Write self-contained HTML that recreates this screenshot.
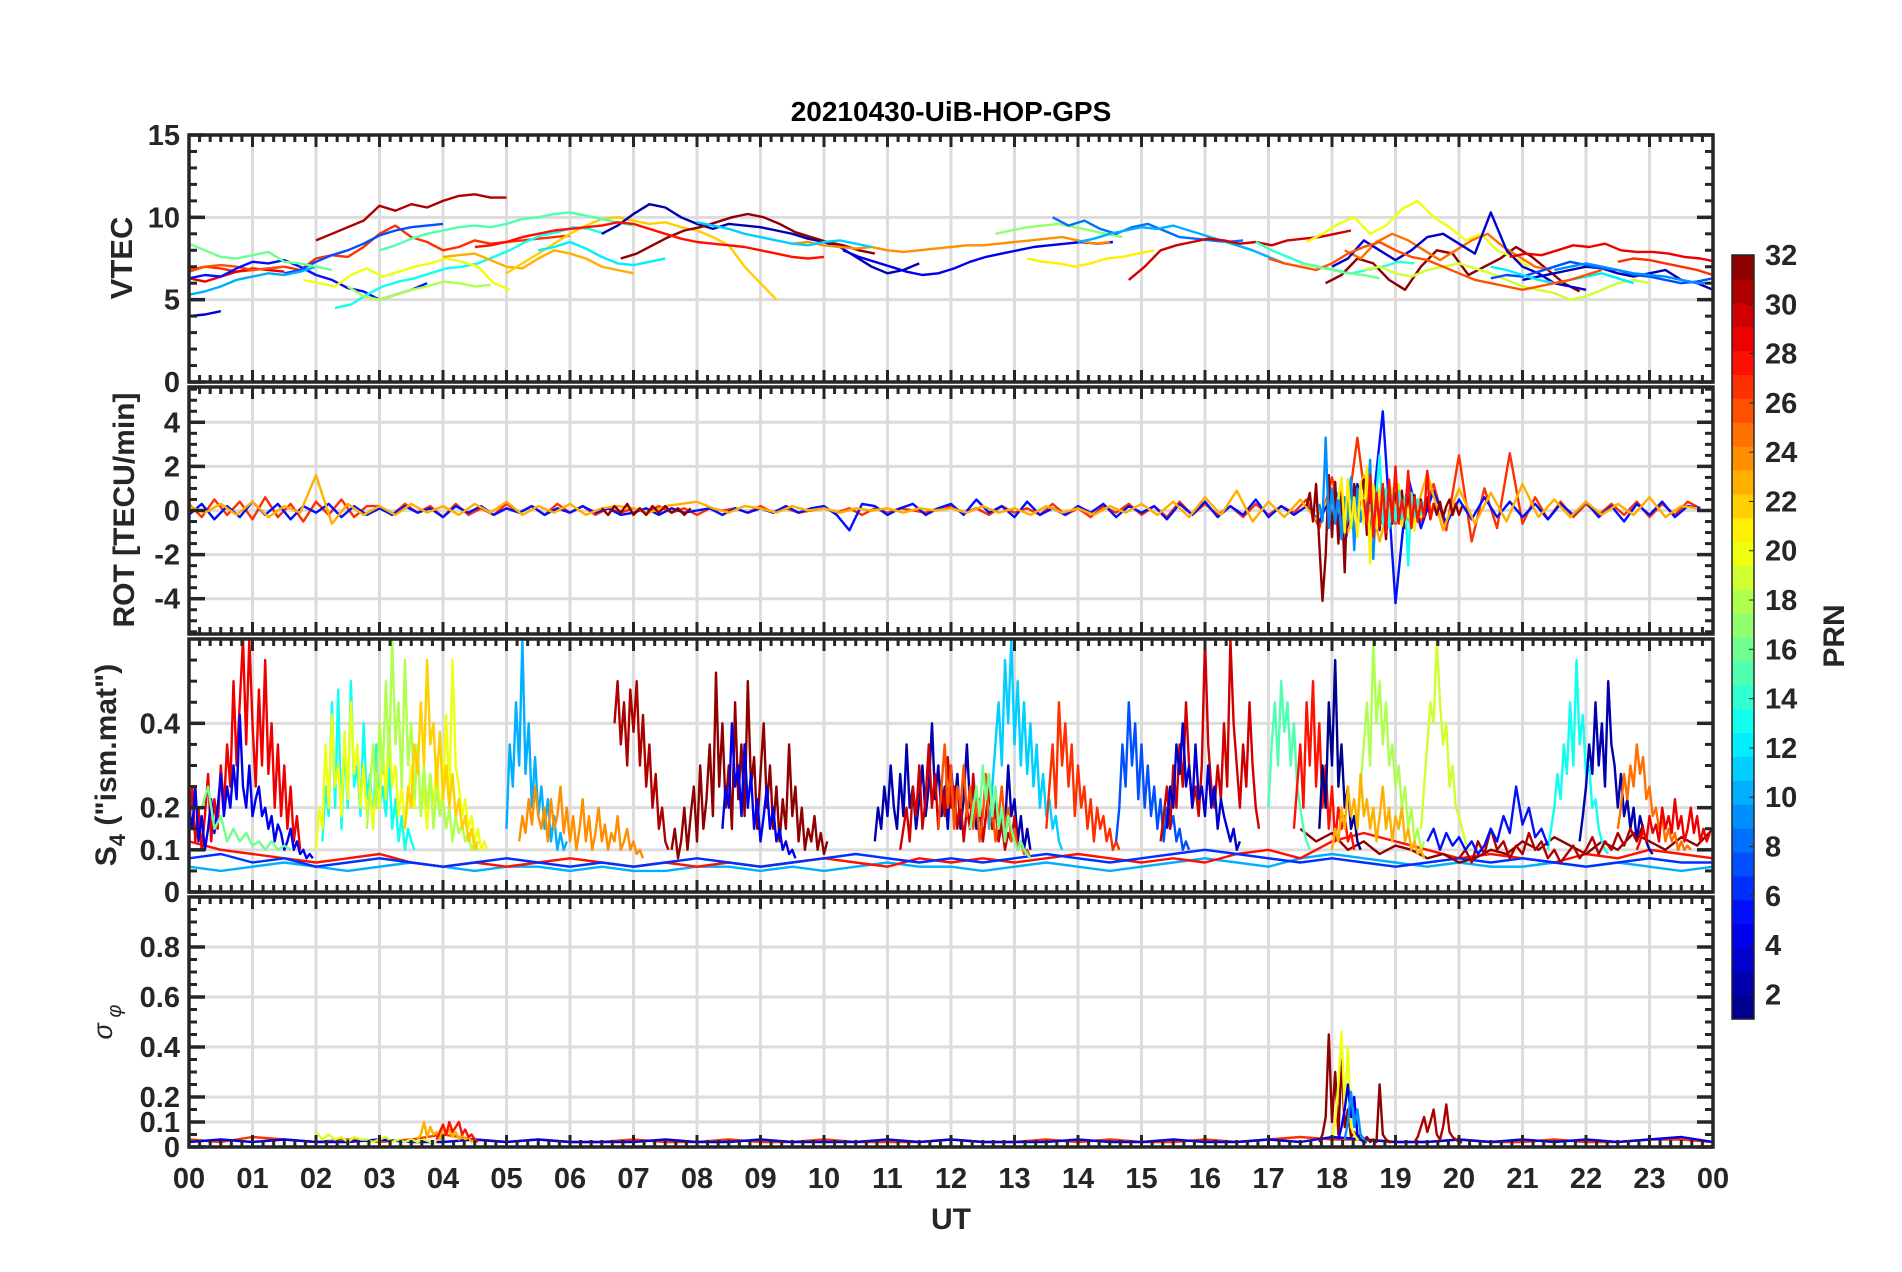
<!DOCTYPE html>
<html><head><meta charset="utf-8"><style>
html,body{margin:0;padding:0;background:#fff;}
svg{display:block;font-family:"Liberation Sans",Arial,sans-serif;}
</style></head><body>
<svg id="fig" width="1902" height="1272" viewBox="0 0 1902 1272" xmlns="http://www.w3.org/2000/svg">
<text x="951" y="121" font-size="28" font-weight="bold" text-anchor="middle" fill="#000">20210430-UiB-HOP-GPS</text>
<text x="951" y="1229" font-size="30" font-weight="bold" text-anchor="middle" fill="#262626">UT</text>
<text transform="translate(132,258) rotate(-90)" font-size="31" font-weight="bold" text-anchor="middle" fill="#262626">VTEC</text>
<text transform="translate(134,510) rotate(-90)" font-size="30" font-weight="bold" text-anchor="middle" fill="#262626">ROT [TECU/min]</text>
<text transform="translate(116,765) rotate(-90)" font-size="30" font-weight="bold" text-anchor="middle" fill="#262626">S<tspan font-size="22" dy="9">4</tspan><tspan dy="-9"> ("ism.mat")</tspan></text>
<text transform="translate(112,1022) rotate(-90)" font-size="27" font-style="italic" text-anchor="middle" fill="#262626">σ<tspan font-size="20" dy="9"> φ</tspan></text>
<text transform="translate(1844,636) rotate(-90)" font-size="30" font-weight="bold" text-anchor="middle" fill="#262626">PRN</text>
<g id="grid"></g><g id="data"></g><g id="axes"></g><g id="cbar"></g>
</svg>
<script>
// ---------- DATA ----------
const hourLabels=["00","01","02","03","04","05","06","07","08","09","10","11","12","13","14","15","16","17","18","19","20","21","22","23","00"];
const vtecTicks=[0,5,10,15];
const rotTicks=[-4,-2,0,2,4];
const s4Ticks=[0,0.1,0.2,0.4];
const sigTicks=[0,0.1,0.2,0.4,0.6,0.8];
const cbarTicks=[2,4,6,8,10,12,14,16,18,20,22,24,26,28,30,32];

const vtecDt=0.25;
const vtecPrns=[31,27,29,26,3,5,7,10,16,13,18,20,23,22,12,15,2,32,28,4,24,17,8,10,21,30,14,32,20,25,3,19,29,2,7,12,26,27,9,16,11];
const vtecStarts=[2.0,0,0,0,0,0,1.5,0,0,2.3,2.5,1.8,4.0,5.0,5.5,3,6.5,6.8,4.5,10.3,9.5,12.7,13.6,14.0,13.2,14.8,16.8,17.9,17.6,18.2,18.0,18.5,20.8,21.0,20.5,20.5,17.0,22.5,21.5,17.5,8];
const vtecVals=[
[8.6,9.0,9.4,9.8,10.7,10.4,10.8,10.6,11.0,11.3,11.4,11.2,11.2],
[6.8,7.0,6.9,6.7,6.8,6.9,7.0,6.8,7.5,7.7,7.6,8.2,9.0,9.5,8.8,8.5,8.0,8.2,8.6,8.4,8.5,8.6,8.7,8.8,8.9],
[6.3,6.1,6.4,6.7,6.9,6.8,6.7],
[6.7,7.0,7.1,7.0,6.8,6.9,7.0],
[4.0,4.1,4.3],
[6.3,6.5,6.4,6.9,7.3,7.2,7.4,7.0,6.5,6.2,5.7,5.5,5.0,5.3,5.6,6.0],
[6.6,6.8,7.3,7.7,8.0,8.4,8.9,9.2,9.4,9.5,9.6],
[5.3,5.5,5.8,6.2,6.4,6.6,6.5,6.7,7.0],
[8.4,8.0,7.6,7.5,7.7,7.9,7.3,7.2,7.0,6.8],
[4.5,4.7,5.3,5.8,6.1,6.3,6.6,6.9,7.0,7.2,7.6,8.0,8.5,8.9,9.1,9.4,9.3,9.0],
[5.8,5.2,5.0,5.3,5.6,5.8,6.1,6.0,5.8,5.9],
[6.2,6.0,5.8,6.5,6.9,6.4,6.7,7.0,7.2,7.5,7.3,7.0,6.0,5.6],
[7.6,7.7,7.8,7.4,7.0,6.9,7.5,8.0,7.8,7.5,7.0,6.8,6.6],
[6.6,7.2,7.8,8.4,9.0,9.5,9.9,10.0,9.8,9.6,9.7,9.4,9.2,8.8,8.3,7.0,6.0,5.0],
[8.0,8.2,8.5,8.1,7.6,7.2,7.1,7.3,7.5],
[8.0,8.3,8.7,9.0,9.2,9.4,9.5,9.4,9.6,9.9,10.0,10.2,10.3,10.1,9.9,9.7,9.5],
[9.0,9.5,10.2,10.8,10.6,10.0,9.6,9.3,9.6,9.5,9.4,9.2,9.0,8.7,8.5,8.2,7.6,7.0,6.6,6.8,7.2],
[7.5,7.8,8.3,8.8,9.2,9.4,9.7,10.0,10.2,10.0,9.6,9.1,8.8,8.5,8.3,8.0,7.8],
[8.2,8.3,8.5,8.8,9.0,9.2,9.3,9.4,9.5,9.7,9.6,9.3,9.0,8.7,8.5,8.4,8.3,8.2,8.0,7.8,7.6,7.5,7.6],
[8.0,7.6,7.3,7.0,6.7,6.5,6.6,6.9,7.3,7.6,7.8,8.0,8.2,8.3,8.4,8.5,8.4,8.5],
[8.4,8.5,8.3,8.2,8.1,8.2,8.0,7.9,8.0,8.1,8.2,8.3,8.3,8.4,8.5,8.6,8.7,8.8,8.6,8.4,8.5],
[9.0,9.2,9.4,9.5,9.6,9.4,9.2,9.0,8.8],
[10.0,9.5,9.8,9.3,9.0,9.4,9.6,9.2,8.8,8.7,8.6,8.5,8.6],
[8.5,8.7,9.0,9.2,9.4,9.3,9.5,9.2,8.9,8.6,8.3,8.0,7.6,7.2],
[7.5,7.3,7.2,7.0,7.2,7.5,7.6,7.8,8.0],
[6.2,7.0,8.0,8.3,8.5,8.7,8.6,8.4,8.5,8.3,8.6,8.7,8.8,9.0,9.2],
[8.5,8.0,7.6,7.2,7.0,6.8,6.6,6.8,7.0,7.3,7.2],
[6.0,6.5,7.5,7.2,6.2,5.6,7.0,8.0,7.8,6.5,7.0,7.5,8.2,7.6,6.8,6.0,5.5],
[8.5,9.0,9.6,10.0,9.0,9.5,10.5,11.0,10.0,9.4,8.6,9.0,8.0,7.6,7.0],
[8.0,7.5,8.5,9.0,8.6,8.0,7.4,8.0,8.6,9.0,8.2,7.6,7.0,6.8],
[7.0,7.5,8.6,8.0,7.4,8.0,8.8,9.0,8.4,7.8,10.3,8.0,7.0,6.6,6.0,5.8,5.6],
[6.8,7.0,6.6,6.4,6.8,7.0,7.2,6.9,6.6,6.2,5.8,5.6,5.4,5.0,5.2,5.6,6.0,6.2,6.0],
[7.6,7.8,7.7,8.0,8.3,8.2,8.4,8.0,7.9,7.9,7.8,7.6,7.5,7.3,7.0,6.5],
[6.2,6.4,6.6,6.8,7.0,6.9,6.6,6.4,6.6,6.8,6.2,6.0,5.6,5.0,4.6,4.2],
[6.3,6.5,6.4,6.7,7.0,7.3,7.1,6.9,6.8,6.5,6.4,6.2,6.0,6.1,6.3,6.0,5.8,5.6,5.8],
[7.0,6.8,6.5,6.2,6.0,6.2,6.4,6.6,6.3,6.0],
[7.5,7.2,7.0,6.8,7.2,7.8,8.2,8.5,8.0,7.6,7.4,7.0,6.6,6.2,6.0,5.8,5.6,5.8,6.0,6.2,6.5,6.8],
[7.3,7.5,7.4,7.2,7.0,6.8,6.5],
[6.8,7.0,7.2,7.0,6.8,6.6,6.5,6.4,6.2,6.0,6.0],
[7.2,7.0,6.8,6.6,6.5,6.3],
[9.7,9.5,9.3,9.0,8.8,8.6,8.4,8.3,8.5,8.6,8.4,8.2]
];

const rotPrns=[27,5,23,32,9,21,13,28,32];
const rotStarts=[0,0,0,17.6,17.8,18.1,18.6,18.5,6.5];
const rotDts=[0.2,0.2,0.25,0.05,0.05,0.05,0.05,0.05,0.1];
const rotVals=[
[0.3,-0.3,0.5,-0.2,0.4,-0.4,0.6,-0.3,0.3,-0.5,0.4,-0.2,0.5,-0.3,0.2,
0.2,-0.2,0.3,-0.1,0.2,-0.3,0.3,-0.2,0.1,-0.2,0.3,-0.1,0.2,-0.2,0.3,-0.1,0.2,-0.2,0.1,-0.1,
0.1,-0.1,0.2,-0.1,0.1,-0.2,0.1,0.0,0.1,-0.1,0.2,-0.1,0.1,-0.1,0.0,0.1,-0.1,0.1,-0.2,0.1,-0.1,0.1,0.0,-0.1,0.1,
0.2,-0.1,0.1,-0.2,0.2,-0.1,0.1,-0.2,0.3,-0.2,0.1,-0.3,0.2,-0.1,0.3,-0.2,0.2,-0.3,0.4,-0.2,0.3,-0.2,0.2,-0.3,0.3,-0.2,0.2,-0.1,
0.5,-0.8,1.5,-1.0,3.3,-1.2,1.0,-0.6,0.8,-0.5,1.2,-0.9,2.5,-1.4,1.0,-0.8,2.6,-0.6,0.6,-0.4,0.4,-0.3,0.3,-0.2,0.3,-0.2,0.4,-0.3,0.3,-0.2,0.4,0.1],
[-0.2,0.3,-0.4,0.2,-0.3,0.4,-0.2,0.3,-0.4,0.2,-0.1,0.3,-0.3,0.2,-0.2,
0.1,-0.2,0.2,-0.1,0.1,-0.3,0.2,-0.1,0.2,-0.2,0.1,-0.1,0.2,-0.2,0.1,-0.1,0.2,-0.1,0.1,-0.2,
-0.1,0.1,-0.2,0.1,-0.1,0.0,0.1,-0.2,0.1,-0.1,0.1,-0.1,0.2,-0.1,0.1,0.2,-0.2,-0.9,0.3,0.2,-0.2,0.1,0.3,-0.2,0.1,
0.3,-0.2,0.5,-0.1,0.2,-0.3,0.4,-0.2,0.1,-0.2,0.2,-0.1,0.3,-0.3,0.2,-0.1,0.2,-0.4,0.3,-0.2,0.4,-0.3,0.2,-0.2,0.5,-0.3,0.2,-0.2,
0.2,-0.5,0.8,-1.5,1.2,-1.0,4.5,-4.2,1.5,-0.8,0.9,-0.6,0.5,-0.4,0.6,-0.3,0.4,-0.3,0.3,-0.4,0.3,-0.2,0.4,-0.3,0.2,-0.5,0.3,-0.2,0.4,-0.3,0.2,0.1],
[0.2,-0.1,0.3,-0.2,0.4,-0.3,0.2,-0.1,1.6,-0.6,0.3,-0.2,
0.2,-0.2,0.3,-0.1,0.2,-0.2,0.3,-0.1,0.4,-0.2,0.2,-0.1,0.3,-0.2,0.1,0.2,
0.1,-0.1,0.2,0.3,0.4,0.1,-0.1,0.2,0.1,-0.1,0.2,0.0,0.1,-0.1,0.1,0.0,0.1,-0.1,0.1,0.0,
0.1,-0.1,0.2,-0.1,0.1,-0.2,0.2,-0.1,0.1,-0.2,0.2,-0.1,0.3,-0.2,0.4,-0.3,0.6,-0.2,0.9,-0.5,0.4,-0.3,
0.5,-0.4,0.8,-1.0,1.6,-1.4,1.2,-0.8,1.7,-0.9,1.0,-0.6,0.8,-0.5,1.2,-0.3,0.5,-0.3,0.4,-0.2,0.3,-0.2,0.6,-0.3,0.2,0.1],
[0.2,0.8,-0.5,1.2,-1.5,-4.1,-2.0,1.6,-1.2,1.3,-1.5,0.9,-2.8,1.4,-0.8,1.2,-1.0,0.8,1.4,-1.1,0.9,-0.7,1.2,-0.9,0.6,-1.3,1.0,-0.6,0.8,-0.5,0.9,-0.8,0.6,-0.4,0.7,-0.5,0.5,-0.3,0.6,-0.4,0.3,-0.2,0.4,-0.3,0.2,0.5,-0.2,0.3,-0.2,0.2],
[0.3,-0.5,3.3,-0.8,1.0,-0.6,0.8,-1.3,0.6,-0.4,1.5,-1.8,1.0,-0.5,0.4,-0.3,2.3,-2.2,0.8,-0.6,0.5,-0.3,0.4,-0.2,0.3],
[0.5,1.5,-1.0,1.4,-0.8,0.6,-1.2,1.3,-0.6,2.0,-2.4,1.2,-0.8,1.0,-0.5,0.8,-0.6,1.0,-0.4,1.2,-0.7,0.5,-0.3,0.8,-0.9,0.4,-0.3,0.3],
[0.3,-0.5,0.8,2.5,-0.6,1.0,-0.8,0.7,-0.5,0.9,-0.4,0.6,-2.5,0.8,-0.3,0.5,-0.2,0.4],
[0.5,-0.6,1.6,-1.2,0.8,-0.7,1.2,-1.0,1.4,-0.5,2.0,-0.6,0.5,-0.4,1.8,-0.8,0.6,-0.5,0.4,-0.3,1.8,-0.4,0.3],
[0.1,-0.2,0.2,-0.1,0.3,-0.2,0.1,-0.2,0.2,-0.1,0.2,-0.1,0.1,-0.2,0.1]
];

const s4Prns=[10,28,6,32,29,4,16,13,20,18,22,10,24,31,32,4,2,30,26,11,16,27,7,30,3,15,28,1,18,19,23,13,2,25,29,31,5];
const s4Starts=[0,0,0,17.5,0,0,0.2,2.1,2.0,2.8,3.4,5.0,5.2,6.7,7.6,8.4,10.8,11.2,11.8,12.6,12.3,13.5,14.6,15.3,15.4,17.0,17.4,17.8,18.4,19.4,18.0,21.4,21.9,22.5,22.8,20.0,19.5];
const s4Dts=[0.5,0.5,0.5,0.25,0.05,0.05,0.1,0.05,0.05,0.05,0.05,0.05,0.05,0.05,0.05,0.05,0.05,0.05,0.05,0.05,0.05,0.05,0.05,0.05,0.05,0.05,0.05,0.05,0.05,0.05,0.05,0.05,0.05,0.05,0.05,0.1,0.1];
const s4Vals=[
[0.06,0.05,0.06,0.07,0.06,0.05,0.06,0.07,0.06,0.05,0.06,0.06,0.05,0.06,0.05,0.05,0.06,0.06,0.05,0.06,0.05,0.06,0.07,0.06,0.06,0.05,0.06,0.07,0.06,0.05,0.06,0.07,0.08,0.07,0.06,0.08,0.09,0.08,0.07,0.06,0.07,0.06,0.06,0.07,0.06,0.07,0.06,0.05,0.06],
[0.12,0.10,0.09,0.08,0.07,0.08,0.09,0.07,0.06,0.07,0.06,0.07,0.08,0.07,0.06,0.07,0.06,0.07,0.06,0.07,0.08,0.07,0.06,0.08,0.07,0.08,0.07,0.08,0.09,0.08,0.07,0.08,0.07,0.09,0.10,0.08,0.12,0.14,0.12,0.10,0.08,0.09,0.08,0.07,0.09,0.08,0.10,0.09,0.08],
[0.08,0.09,0.07,0.08,0.06,0.07,0.08,0.07,0.06,0.07,0.08,0.07,0.06,0.07,0.06,0.07,0.08,0.07,0.06,0.07,0.08,0.09,0.08,0.07,0.08,0.07,0.08,0.09,0.08,0.07,0.08,0.09,0.10,0.09,0.08,0.07,0.08,0.07,0.06,0.07,0.08,0.07,0.08,0.07,0.06,0.07,0.08,0.07,0.07],
[0.15,0.12,0.14,0.10,0.12,0.09,0.11,0.10,0.08,0.09,0.07,0.08,0.10,0.09,0.12,0.10,0.13,0.11,0.09,0.12,0.10,0.14,0.12,0.10,0.13,0.11,0.15],
[0.15,0.25,0.12,0.20,0.10,0.18,0.28,0.12,0.22,0.15,0.30,0.20,0.35,0.25,0.50,0.30,0.45,0.60,0.35,0.60,0.40,0.25,0.48,0.30,0.55,0.28,0.40,0.20,0.35,0.18,0.30,0.15,0.25,0.12,0.18,0.10],
[0.20,0.15,0.25,0.12,0.18,0.10,0.15,0.22,0.14,0.20,0.28,0.18,0.25,0.20,0.30,0.22,0.42,0.25,0.20,0.30,0.18,0.22,0.25,0.18,0.20,0.15,0.18,0.12,0.16,0.14,0.10,0.12,0.15,0.10,0.12,0.09,0.10,0.08,0.09,0.08],
[0.20,0.25,0.15,0.18,0.12,0.15,0.12,0.14,0.11,0.12,0.10,0.12,0.10,0.11,0.10],
[0.12,0.25,0.18,0.45,0.20,0.48,0.15,0.35,0.20,0.50,0.25,0.30,0.18,0.40,0.22,0.28,0.15,0.35,0.20,0.25,0.18,0.30,0.15,0.22,0.12,0.18,0.10,0.15,0.12,0.10],
[0.10,0.20,0.15,0.35,0.20,0.42,0.25,0.30,0.18,0.38,0.22,0.45,0.28,0.35,0.20,0.30,0.18,0.25,0.15,0.28,0.20,0.35,0.22,0.40,0.25,0.30,0.18,0.25,0.15,0.22,0.30,0.20,0.35,0.18,0.25,0.15,0.28,0.20,0.32,0.18,0.25,0.42,0.22,0.55,0.30,0.25,0.18,0.22,0.15,0.18,0.12,0.15,0.10,0.12,0.10],
[0.15,0.25,0.35,0.20,0.40,0.28,0.50,0.30,0.60,0.35,0.45,0.25,0.55,0.30,0.40,0.22,0.35,0.18,0.30,0.20,0.28,0.15,0.25,0.18,0.22,0.15,0.20,0.12,0.18,0.14,0.16,0.12,0.14,0.10,0.12,0.10],
[0.15,0.25,0.20,0.35,0.28,0.45,0.30,0.55,0.35,0.40,0.25,0.38,0.22,0.30,0.20,0.28,0.18,0.22,0.15,0.18,0.12,0.15,0.10,0.12],
[0.15,0.35,0.25,0.45,0.30,0.60,0.28,0.40,0.20,0.32,0.18,0.25,0.15,0.22,0.12,0.18,0.10,0.14,0.10,0.12],
[0.12,0.18,0.14,0.22,0.16,0.25,0.18,0.15,0.20,0.12,0.22,0.15,0.18,0.25,0.14,0.20,0.12,0.18,0.10,0.15,0.22,0.12,0.18,0.10,0.14,0.20,0.12,0.16,0.10,0.14,0.12,0.18,0.10,0.12,0.15,0.10,0.12,0.09,0.10,0.08],
[0.40,0.50,0.35,0.45,0.30,0.48,0.38,0.50,0.30,0.42,0.25,0.35,0.20,0.28,0.15,0.20,0.12,0.10],
[0.10,0.15,0.08,0.12,0.20,0.10,0.18,0.25,0.12,0.30,0.15,0.22,0.35,0.18,0.52,0.25,0.40,0.20,0.30,0.15,0.45,0.22,0.35,0.18,0.50,0.25,0.32,0.15,0.28,0.40,0.20,0.30,0.15,0.25,0.12,0.22,0.15,0.35,0.18,0.25,0.12,0.20,0.10,0.15,0.12,0.18,0.10,0.14,0.09,0.12],
[0.15,0.25,0.20,0.40,0.25,0.30,0.18,0.35,0.20,0.28,0.15,0.22,0.12,0.18,0.25,0.15,0.20,0.12,0.15,0.10,0.12,0.09,0.10,0.08],
[0.12,0.20,0.15,0.25,0.18,0.30,0.20,0.15,0.28,0.18,0.35,0.20,0.25,0.15,0.22,0.30,0.18,0.25,0.40,0.22,0.30,0.18,0.25,0.15,0.30,0.20,0.28,0.15,0.22,0.35,0.20,0.25,0.15,0.20,0.12,0.18,0.25,0.15,0.22,0.12,0.20,0.15,0.30,0.18,0.22,0.12,0.18,0.10,0.15,0.10],
[0.10,0.15,0.20,0.12,0.25,0.18,0.30,0.15,0.22,0.35,0.20,0.28,0.15,0.25,0.18,0.32,0.20,0.25,0.15,0.22,0.12,0.20,0.15,0.28,0.18,0.22,0.12,0.18,0.25,0.15,0.20,0.12,0.16,0.10,0.14,0.12,0.18,0.10,0.12,0.10],
[0.15,0.25,0.35,0.20,0.30,0.15,0.25,0.20,0.30,0.18,0.25,0.15,0.22,0.12,0.18,0.28,0.15,0.20,0.12,0.18,0.25,0.15,0.20,0.12,0.15,0.10,0.12,0.09,0.10,0.08],
[0.15,0.25,0.35,0.45,0.30,0.55,0.40,0.60,0.35,0.50,0.30,0.45,0.28,0.40,0.25,0.35,0.20,0.28,0.18,0.22,0.15,0.18,0.12,0.10],
[0.15,0.20,0.25,0.18,0.30,0.22,0.28,0.18,0.25,0.15,0.20,0.12,0.18,0.15,0.12,0.10,0.12,0.10,0.09,0.08],
[0.15,0.25,0.35,0.20,0.45,0.30,0.40,0.25,0.35,0.18,0.30,0.20,0.25,0.15,0.22,0.12,0.20,0.15,0.18,0.12,0.15,0.10,0.12,0.10],
[0.12,0.20,0.35,0.25,0.45,0.30,0.40,0.22,0.35,0.20,0.30,0.18,0.25,0.15,0.22,0.12,0.20,0.15,0.18,0.12,0.15,0.10,0.12,0.10],
[0.12,0.18,0.25,0.15,0.30,0.20,0.35,0.25,0.45,0.30,0.20,0.25,0.18,0.30,0.60,0.35,0.25,0.20,0.30,0.22,0.40,0.25,0.60,0.40,0.30,0.20,0.35,0.25,0.45,0.30,0.20,0.15],
[0.15,0.25,0.20,0.35,0.28,0.40,0.25,0.30,0.20,0.35,0.22,0.25,0.18,0.30,0.20,0.25,0.15,0.22,0.18,0.15,0.12,0.15,0.10,0.12],
[0.20,0.35,0.45,0.30,0.50,0.38,0.45,0.30,0.40,0.25,0.20,0.15,0.12,0.10],
[0.15,0.25,0.35,0.20,0.45,0.30,0.50,0.25,0.40,0.20,0.30,0.15,0.25,0.12,0.20,0.15,0.18,0.12,0.14,0.10],
[0.15,0.30,0.20,0.45,0.30,0.55,0.25,0.35,0.20,0.25,0.15,0.18,0.12,0.10],
[0.15,0.25,0.35,0.45,0.30,0.60,0.40,0.50,0.35,0.45,0.30,0.35,0.25,0.30,0.20,0.25,0.15,0.20,0.12,0.15,0.10,0.12],
[0.15,0.25,0.35,0.45,0.40,0.60,0.45,0.35,0.40,0.25,0.30,0.20,0.18,0.15,0.12,0.10],
[0.10,0.15,0.12,0.20,0.15,0.25,0.18,0.22,0.15,0.28,0.18,0.22,0.15,0.20,0.12,0.18,0.25,0.15,0.20,0.12,0.18,0.15,0.20,0.12,0.15,0.10,0.12,0.09,0.10,0.08],
[0.10,0.15,0.20,0.28,0.22,0.35,0.28,0.45,0.30,0.55,0.35,0.42,0.28,0.30,0.20,0.22,0.15,0.12,0.10,0.09],
[0.12,0.18,0.25,0.35,0.28,0.45,0.30,0.40,0.25,0.50,0.35,0.30,0.20,0.28,0.18,0.22,0.15,0.20,0.12,0.18,0.15,0.12,0.10,0.09],
[0.15,0.20,0.28,0.22,0.30,0.25,0.35,0.28,0.32,0.22,0.25,0.18,0.20,0.15,0.18,0.12,0.15,0.12,0.14,0.10,0.12,0.10,0.11,0.10],
[0.10,0.12,0.15,0.12,0.18,0.14,0.16,0.12,0.20,0.15,0.18,0.14,0.22,0.15,0.18,0.12,0.15,0.20,0.14,0.18,0.12,0.15,0.12,0.14],
[0.08,0.10,0.07,0.12,0.09,0.15,0.10,0.12,0.08,0.11,0.09,0.14,0.10,0.12,0.08,0.10,0.07,0.09,0.11,0.08,0.10,0.13,0.09,0.12,0.10,0.14,0.11,0.15,0.12,0.16],
[0.12,0.15,0.10,0.14,0.11,0.13,0.10,0.12,0.09,0.11,0.15,0.12,0.18,0.14,0.25,0.16,0.20,0.13,0.15,0.11]
];

const sigPrns=[27,4,19,23,28,32,20,4,31,9];
const sigStarts=[0,0,2.0,3.6,3.9,17.8,18.0,18.1,19.3,18.2];
const sigDts=[0.5,0.5,0.1,0.05,0.05,0.05,0.05,0.05,0.05,0.05];
const sigVals=[
[0.03,0.02,0.04,0.03,0.02,0.03,0.02,0.03,0.05,0.03,0.02,0.03,0.02,0.02,0.03,0.02,0.02,0.03,0.02,0.02,0.03,0.02,0.02,0.02,0.03,0.02,0.02,0.03,0.02,0.03,0.02,0.02,0.03,0.02,0.03,0.04,0.03,0.03,0.02,0.02,0.03,0.02,0.02,0.03,0.02,0.02,0.03,0.03,0.02],
[0.02,0.03,0.02,0.03,0.02,0.02,0.03,0.02,0.02,0.03,0.02,0.03,0.02,0.02,0.02,0.03,0.02,0.02,0.03,0.02,0.02,0.02,0.03,0.02,0.03,0.02,0.02,0.02,0.03,0.02,0.02,0.03,0.02,0.02,0.03,0.02,0.04,0.03,0.02,0.02,0.03,0.02,0.03,0.02,0.03,0.02,0.03,0.04,0.02],
[0.06,0.03,0.05,0.03,0.04,0.02,0.04,0.03,0.03,0.02,0.03,0.04,0.02,0.03,0.02,0.03,0.02,0.03,0.02,0.02],
[0.03,0.05,0.10,0.04,0.08,0.05,0.06,0.03,0.09,0.05,0.07,0.04,0.06,0.03,0.05,0.03,0.04,0.02,0.03,0.02],
[0.03,0.06,0.09,0.05,0.10,0.06,0.08,0.10,0.05,0.07,0.04,0.05,0.03,0.02],
[0.02,0.05,0.12,0.45,0.10,0.30,0.05,0.35,0.08,0.15,0.04,0.06,0.03,0.05,0.03,0.04,0.02,0.03,0.02,0.25,0.05,0.03,0.02,0.02],
[0.03,0.10,0.25,0.46,0.15,0.40,0.08,0.05,0.03,0.04,0.02,0.02],
[0.03,0.08,0.15,0.25,0.12,0.20,0.05,0.03,0.02,0.02],
[0.02,0.04,0.08,0.12,0.06,0.10,0.15,0.05,0.03,0.08,0.17,0.06,0.04,0.03,0.02,0.02],
[0.03,0.10,0.22,0.08,0.15,0.05,0.03,0.02]
];

// ---------- LAYOUT ----------
const NS="http://www.w3.org/2000/svg";
const X0=189, X1=1713;
const xAt=h=>X0+h*(X1-X0)/24;
const panelDefs=[
 {name:"vtec",top:135,bot:382,min:0,max:15,ticks:vtecTicks,minor:1,prns:vtecPrns,starts:vtecStarts,dts:null,dt:vtecDt,vals:vtecVals},
 {name:"rot",top:387,bot:634,min:-5.6,max:5.6,ticks:rotTicks,minor:0.5,prns:rotPrns,starts:rotStarts,dts:rotDts,vals:rotVals},
 {name:"s4",top:639,bot:892,min:0,max:0.6,ticks:s4Ticks,minor:0.05,prns:s4Prns,starts:s4Starts,dts:s4Dts,vals:s4Vals},
 {name:"sigma-phi",top:897,bot:1147,min:0,max:1,ticks:sigTicks,minor:0.05,prns:sigPrns,starts:sigStarts,dts:sigDts,vals:sigVals}
];
function jet(p){
  const x=(p-0.5)/32;
  const c=v=>Math.round(255*Math.max(0,Math.min(1,v)));
  return `rgb(${c(1.5-Math.abs(4*x-3))},${c(1.5-Math.abs(4*x-2))},${c(1.5-Math.abs(4*x-1))})`;
}
function mk(tag,attrs,parent){const e=document.createElementNS(NS,tag);for(const k in attrs)e.setAttribute(k,attrs[k]);parent.appendChild(e);return e;}
const G=document.getElementById('grid'),D=document.getElementById('data'),A=document.getElementById('axes'),C=document.getElementById('cbar');
const ink="#262626";

panelDefs.forEach(P=>{
  const yAt=v=>P.bot-(v-P.min)/(P.max-P.min)*(P.bot-P.top);
  const box=mk('rect',{x:X0,y:P.top,width:X1-X0,height:P.bot-P.top,fill:"#fff"},G);
  
  
  for(let h=1;h<24;h++){
    const gl=mk('line',{x1:xAt(h),x2:xAt(h),y1:P.top,y2:P.bot,stroke:"#dcdcdc","stroke-width":3},G);
    
    
  }
  P.ticks.forEach(t=>{
    if(t===P.min) return;
    const gl=mk('line',{x1:X0,x2:X1,y1:yAt(t),y2:yAt(t),stroke:"#dcdcdc","stroke-width":3},G);
    
    
  });
  const clipId='clip-'+P.name;
  const cp=mk('clipPath',{id:clipId},D);
  mk('rect',{x:X0,y:P.top,width:X1-X0,height:P.bot-P.top},cp);
  const sg=mk('g',{'clip-path':`url(#${clipId})`},D);
  
  
  P.vals.forEach((arr,i)=>{
    const dt=P.dts?P.dts[i]:P.dt;
    const pts=arr.map((v,j)=>xAt(P.starts[i]+j*dt).toFixed(1)+','+yAt(v).toFixed(1)).join(' ');
    const pl=mk('polyline',{points:pts,fill:"none",stroke:jet(P.prns[i]),"stroke-width":2.4,"stroke-linejoin":"round"},sg);
    
    
  });
  const fr=mk('rect',{x:X0,y:P.top,width:X1-X0,height:P.bot-P.top,fill:"none",stroke:ink,"stroke-width":3.5},A);
  
  
  for(let m=0;m<=144;m++){
    const x=xAt(m/6),len=(m%6===0)?12:7;
    mk('line',{x1:x,x2:x,y1:P.top,y2:P.top+len,stroke:ink,"stroke-width":3},A);
    mk('line',{x1:x,x2:x,y1:P.bot,y2:P.bot-len,stroke:ink,"stroke-width":3},A);
  }
  const nMin=Math.round((P.max-P.min)/P.minor);
  for(let k=0;k<=nMin;k++){
    const v=Math.ceil(P.min/P.minor)*P.minor+k*P.minor; if(v>P.max+1e-9)break;
    const y=yAt(v);
    mk('line',{x1:X0,x2:X0+8,y1:y,y2:y,stroke:ink,"stroke-width":3},A);
    mk('line',{x1:X1,x2:X1-8,y1:y,y2:y,stroke:ink,"stroke-width":3},A);
  }
  P.ticks.forEach(t=>{
    const y=yAt(t);
    mk('line',{x1:X0,x2:X0+16,y1:y,y2:y,stroke:ink,"stroke-width":3.5},A);
    mk('line',{x1:X1,x2:X1-16,y1:y,y2:y,stroke:ink,"stroke-width":3.5},A);
    const tl=mk('text',{x:180,y:y+10,"font-size":29,"font-weight":"bold","text-anchor":"end",fill:ink},A);
    tl.textContent=String(t);
    
    
  });
});
hourLabels.forEach((s,h)=>{
  const t=mk('text',{x:xAt(h),y:1188,"font-size":29,"font-weight":"bold","text-anchor":"middle",fill:ink},A);
  t.textContent=s;
  
  
});
const CB={x:1732,w:22,top:255,bot:1019,min:1,max:32};
const cbY=v=>CB.bot-(v-CB.min)/(CB.max-CB.min)*(CB.bot-CB.top);
const bh=(CB.bot-CB.top)/32;
for(let p=1;p<=32;p++){
  const r=mk('rect',{x:CB.x,y:CB.bot-p*bh,width:CB.w,height:bh+0.6,fill:jet(p)},C);
  
  
}
const cbf=mk('rect',{x:CB.x,y:CB.top,width:CB.w,height:CB.bot-CB.top,fill:"none",stroke:ink,"stroke-width":1.5},C);


cbarTicks.forEach(v=>{
  const y=cbY(v);
  mk('line',{x1:CB.x+CB.w-5,x2:CB.x+CB.w,y1:y,y2:y,stroke:ink,"stroke-width":1},C);
  const t=mk('text',{x:1765,y:y+10,"font-size":29,"font-weight":"bold",fill:ink},C);
  t.textContent=String(v);
  
  
});
</script>
</body></html>
